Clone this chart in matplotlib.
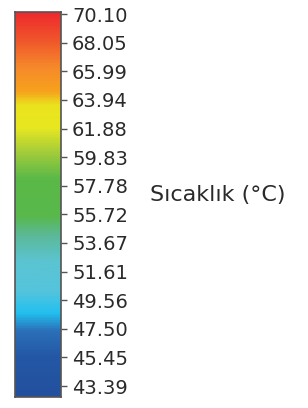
import numpy as np
import matplotlib
matplotlib.use("Agg")
import matplotlib.pyplot as plt
from matplotlib.colors import LinearSegmentedColormap

# tick values on the colour bar
tick_values = [43.39, 45.45, 47.50, 49.56, 51.61, 53.67, 55.72,
               57.78, 59.83, 61.88, 63.94, 65.99, 68.05, 70.10]
tick_labels = [f"{v:.2f}" for v in tick_values]

# colour stops (value -> colour)
stop_values = [42.6, 45.5, 47.3, 48.6, 50.2, 52.3, 54.2, 55.6, 58.3,
               60.2, 62.0, 63.6, 64.6, 66.3, 68.2, 70.25]
stop_colors = ["#22509e", "#2458a6", "#2b70b8", "#22c0ef", "#55c4dc",
               "#5bc4d2", "#5cb998", "#58b84a", "#5ab948", "#a4cc3a",
               "#e8e820", "#eae31e", "#f7a21c", "#f68a2a", "#f0582b",
               "#ee2a2e"]
label = "Sıcaklık (°C)"

vmin, vmax = stop_values[0], stop_values[-1]
pos = [(v - vmin) / (vmax - vmin) for v in stop_values]
cmap = LinearSegmentedColormap.from_list("temp", list(zip(pos, stop_colors)))

fig = plt.figure(figsize=(3.08, 4.08), dpi=100)
ax = fig.add_axes([15 / 308, 11 / 408, 46 / 308, 385 / 408])

grad = np.linspace(vmin, vmax, 400).reshape(-1, 1)
ax.imshow(grad, aspect="auto", cmap=cmap, origin="lower",
          extent=[0, 1, vmin, vmax], vmin=vmin, vmax=vmax)
ax.set_ylim(vmin, vmax)
ax.set_xlim(0, 1)
ax.set_xticks([])
ax.yaxis.tick_right()
ax.set_yticks(tick_values)
ax.set_yticklabels(tick_labels)
ax.tick_params(axis="y", length=4.5, width=1, color="#555555", pad=3.5,
               labelsize=14, labelcolor="#2a2a2a")
for s in ax.spines.values():
    s.set_color("#555555")
    s.set_linewidth(1.2)

fig.text(150 / 308, 1 - 195 / 408, label, fontsize=16, color="#2a2a2a",
         ha="left", va="center")

fig.savefig("out.png", dpi=100)
